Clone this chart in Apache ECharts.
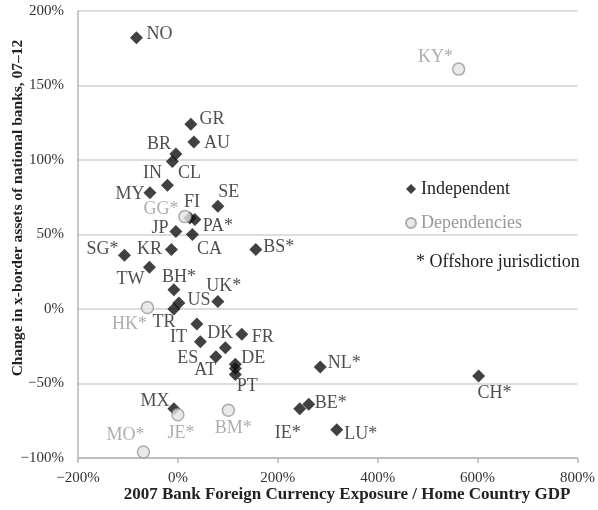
<!DOCTYPE html>
<html>
<head>
<meta charset="utf-8">
<script src="https://cdn.jsdelivr.net/npm/echarts@6/dist/echarts.min.js"></script>
<style>
  html, body { margin: 0; padding: 0; background: #fff; }
  #chart { width: 598px; height: 510px; }
</style>
</head>
<body>
<div id="chart"></div>
<script>
// independent countries
const indepNames = ['NO', 'GR', 'AU', 'BR', 'CL', 'IN', 'MY', 'SE', 'FI', 'PA*', 'JP', 'CA', 'KR', 'SG*', 'BS*', 'TW',
  'BH*', 'US', '', 'UK*', 'TR', 'IT', 'DK', 'FR', 'ES', 'DE', 'AT', 'PT', 'NL*', 'CH*', 'MX', 'IE*', 'BE*', 'LU*']
const indepX = [-83, 26, 32, -4, -11, -21, -56, 80, 24, 34, -4, 29, -13, -107, 156, -57,
  -8, 2, -8, 80, 38, 45, 95, 128, 76, 115, 115, 115, 285, 602, -8, 244, 262, 318]
const indepY = [182, 124, 112, 104, 99, 83, 78, 69, 61, 60, 52, 50, 40, 36, 40, 28,
  13, 4, 0, 5, -10, -22, -26, -17, -32, -37, -40, -44, -39, -45, -67, -67, -64, -81]

// dependencies
const depNames = ['KY*', 'GG*', 'HK*', 'JE*', 'BM*', 'MO*']
const depX = [562, 14, -61, 0, 101, -69]
const depY = [161, 62, 1, -71, -68, -96]

// axis ticks
const xTicks = [-200, 0, 200, 400, 600, 800]
const yTicks = [-100, -50, 0, 50, 100, 150, 200]

// where each label sits relative to its point (px)
const labelOffsets = {
  'NO': [23, -4], 'GR': [21, -5], 'AU': [23, 1], 'BR': [-17, -10], 'CL': [17, 12], 'IN': [-15, -12],
  'MY': [-20, 1], 'SE': [11, -14], 'FI': [2, -16], 'PA*': [23, 7], 'JP': [-16, -3], 'CA': [17, 15],
  'KR': [-22, 0], 'SG*': [-22, -6], 'BS*': [23, -2], 'TW': [-19, 12], 'BH*': [5, -12], 'US': [20, -3],
  'UK*': [6, -15], 'TR': [-33, -2], 'IT': [-22, -5], 'DK': [-5, -14], 'FR': [21, 3], 'ES': [-28, 2],
  'DE': [18, -6], 'AT': [-30, 2], 'PT': [12, 12], 'NL*': [24, -4], 'CH*': [16, 17], 'MX': [-19, -8],
  'IE*': [-12, 24], 'BE*': [22, -1], 'LU*': [24, 5],
  'KY*': [-23, -12], 'GG*': [-24, -7], 'HK*': [-18, 17], 'JE*': [3, 18], 'BM*': [5, 18], 'MO*': [-18, -17]
}

const FONT = 'Liberation Serif'
const minus = v => (v < 0 ? '\u2212' + Math.abs(v) : String(v)) + '%'

function points(names, xs, ys) {
  return names.map((n, i) => ({
    name: n,
    value: [xs[i], ys[i]],
    label: { offset: labelOffsets[n] || [0, 0] }
  }))
}

const chart = echarts.init(document.getElementById('chart'))
chart.setOption({
  animation: false,
  grid: { left: 78, right: 16, top: 11, bottom: 52 },
  legend: {
    orient: 'vertical',
    left: 400,
    top: 175,
    itemWidth: 10,
    itemHeight: 10,
    itemGap: 16,
    textStyle: { fontFamily: FONT, fontSize: 18, color: '#222' },
    data: [
      { name: 'Independent', icon: 'diamond' },
      { name: 'Dependencies', icon: 'circle', textStyle: { color: '#999' } }
    ]
  },
  graphic: [
    {
      type: 'text', left: 416, top: 253,
      style: { text: '* Offshore jurisdiction', font: '18px ' + FONT, fill: '#222' }
    },
    {
      type: 'text', x: 347, y: 495,
      style: {
        text: '2007 Bank Foreign Currency Exposure / Home Country GDP',
        font: 'bold 17px ' + FONT, fill: '#222', align: 'center', verticalAlign: 'middle'
      }
    },
    {
      type: 'text', x: 18, y: 208, rotation: Math.PI / 2,
      style: {
        text: 'Change in x-border assets of national banks, 07\u201312',
        font: 'bold 15.5px ' + FONT, fill: '#222', align: 'center', verticalAlign: 'middle'
      }
    }
  ],
  xAxis: {
    type: 'value',
    min: xTicks[0],
    max: xTicks[xTicks.length - 1],
    interval: 200,
    axisLine: { show: true, onZero: false, lineStyle: { color: '#b5b5b5', width: 1.5 } },
    axisTick: { show: true, length: 5, lineStyle: { color: '#b5b5b5', width: 1.5 } },
    axisLabel: { margin: 13, fontFamily: FONT, fontSize: 15, color: '#333', formatter: minus },
    splitLine: { show: false }
  },
  yAxis: {
    type: 'value',
    min: yTicks[0],
    max: yTicks[yTicks.length - 1],
    interval: 50,
    axisLine: { show: true, onZero: false, lineStyle: { color: '#b5b5b5', width: 1.5 } },
    axisTick: { show: false },
    axisLabel: { margin: 14, fontFamily: FONT, fontSize: 15, color: '#333', formatter: minus },
    splitLine: { show: true, lineStyle: { color: '#d0d0d0', width: 1.5 } }
  },
  series: [
    {
      name: 'Independent',
      type: 'scatter',
      symbol: 'diamond',
      symbolSize: 13,
      itemStyle: { color: '#111' },
      label: {
        show: true, position: 'inside', formatter: '{b}',
        fontFamily: FONT, fontSize: 18, color: '#222'
      },
      data: points(indepNames, indepX, indepY)
    },
    {
      name: 'Dependencies',
      type: 'scatter',
      symbol: 'circle',
      symbolSize: 12,
      itemStyle: { color: '#e4e4e4', borderColor: '#9a9a9a', borderWidth: 1.5 },
      label: {
        show: true, position: 'inside', formatter: '{b}',
        fontFamily: FONT, fontSize: 18, color: '#999'
      },
      data: points(depNames, depX, depY)
    }
  ]
})
</script>
</body>
</html>
